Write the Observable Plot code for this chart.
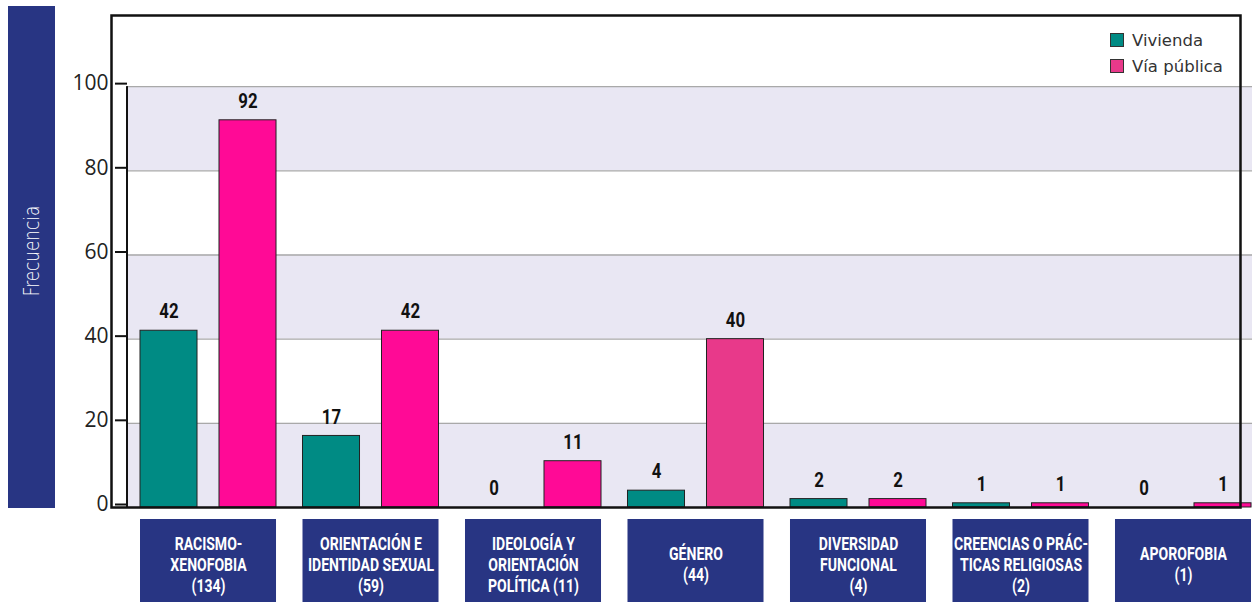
<!DOCTYPE html>
<html>
<head>
<meta charset="utf-8">
<script src="https://cdn.jsdelivr.net/npm/d3@7"></script>
<script src="https://cdn.jsdelivr.net/npm/@observablehq/plot@0.6"></script>
<style>
  body { margin: 0; background: #fff; }
  #wrap { position: relative; width: 1252px; height: 602px; overflow: hidden; background: #fff; }
  #ylab { position: absolute; left: 8px; top: 6px; width: 47px; height: 502px; background: #283583; }
  #ylab span { position: absolute; left: 50%; top: 245px; transform: translate(-50%, -50%) rotate(-90deg) scale(0.8, 1);
    color: #fff; font-family: "DejaVu Sans", sans-serif; font-weight: 200; font-size: 21px; white-space: nowrap; }
  #legend { position: absolute; left: 1110px; top: 27px; font-family: "DejaVu Sans", sans-serif; font-size: 16.5px; color: #333; }
  #legend div { display: flex; align-items: center; height: 26px; }
  #legend i { display: inline-block; width: 12px; height: 12px; border: 1px solid #333; margin-right: 8px; }
  #main { position: absolute; left: 0; top: 0; }
  #cats { position: absolute; left: 0; top: 510px; }
</style>
</head>
<body>
<div id="wrap">
  <div id="ylab"><span>Frecuencia</span></div>
  <div id="main"></div>
  <div id="cats"></div>
  <div id="legend"></div>
</div>
<script>
// ---- data ----
const categories = [
  "RACISMO-\nXENOFOBIA\n(134)",
  "ORIENTACIÓN E\nIDENTIDAD SEXUAL\n(59)",
  "IDEOLOGÍA Y\nORIENTACIÓN\nPOLÍTICA (11)",
  "GÉNERO\n(44)",
  "DIVERSIDAD\nFUNCIONAL\n(4)",
  "CREENCIAS O PRÁC-\nTICAS RELIGIOSAS\n(2)",
  "APOROFOBIA\n(1)"
];
const series = ["Vivienda", "Vía pública"];
const vivienda   = [42, 17, 0, 4, 2, 1, 0];
const viaPublica = [92, 42, 11, 40, 2, 1, 1];
const yTicks = [0, 20, 40, 60, 80, 100];
const stripeFrom = [0, 40, 80];
const stripeTo   = [20, 60, 100];

// ---- styling ----
const W = 1252, ML = 127, MR = 0;
const teal = "#008b84", pink = "#ff0a96", pinkSoft = "#e8398a", navy = "#283583";
const boldFont = "Roboto, 'DejaVu Sans', sans-serif";
const tickFont = "'Open Sans', Lato, sans-serif";

const rows = categories.map((c, i) => ({cat: c, viv: vivienda[i], via: viaPublica[i]}));
const stripes = stripeFrom.map((s, i) => ({y1: s, y2: stripeTo[i]}));
const xScale = {domain: categories, range: [ML, 1264], paddingInner: 0.163, paddingOuter: 0.08, round: false, axis: null};
const barW = 57, band = 136, off = (band - barW) / 2;

// horizontally condense the text of text marks (no condensed font installed)
function condense(svg, k) {
  svg.querySelectorAll("g[aria-label='text'] text").forEach(t => {
    const tr = t.getAttribute("transform") || "";
    t.setAttribute("transform", tr + ` scale(${k},1)`);
  });
}

const main = Plot.plot({
  width: W, height: 510,
  marginLeft: ML, marginRight: MR, marginTop: 15, marginBottom: 3,
  style: {background: "transparent", overflow: "visible"},
  x: xScale,
  y: {domain: [0, 116.9], axis: null},
  marks: [
    Plot.rect(stripes, {y1: "y1", y2: "y2", fill: "#e9e7f3"}),
    Plot.ruleY(yTicks.filter(t => t > 0), {stroke: "#a9a9a9", strokeWidth: 1.3}),
    Plot.barY(rows, {x: "cat", y: "viv", insetRight: band - barW, fill: teal, stroke: "#222", strokeWidth: 1}),
    Plot.barY(rows, {x: "cat", y: "via", insetLeft: band - barW,
      fill: d => d.cat === categories[3] ? pinkSoft : pink, stroke: "#222", strokeWidth: 1}),
    Plot.text(rows, {x: "cat", y: "viv", text: "viv", dx: -off, dy: -19, fontSize: 21, fontWeight: "bold", fontFamily: boldFont, fill: "#111"}),
    Plot.text(rows, {x: "cat", y: "via", text: "via", dx: off, dy: -19, fontSize: 21, fontWeight: "bold", fontFamily: boldFont, fill: "#111"}),
    Plot.rect([yTicks], {y1: d => d3.min(d), y2: d => d3.max(d), fill: "#111", insetLeft: -1, insetRight: W - ML - MR - 1}),
    Plot.axisY(yTicks, {anchor: "left", tickSize: 12, tickPadding: 7, strokeWidth: 2, stroke: "#111",
      fontSize: 21, fontFamily: tickFont, fill: "#222", dy: -3, label: null}),
    Plot.frame({stroke: "#111", strokeWidth: 2.5, insetLeft: -16, insetRight: 12})
  ]
});
condense(main, 0.8);
document.getElementById("main").appendChild(main);

const cats = Plot.plot({
  width: W, height: 92,
  marginLeft: ML, marginRight: MR, marginTop: 9, marginBottom: 0,
  style: {background: "transparent"},
  x: xScale,
  marks: [
    Plot.cell(rows, {x: "cat", fill: navy, inset: 0}),
    Plot.text(rows, {x: "cat", text: "cat", frameAnchor: "middle", dy: 3, lineHeight: 1.18,
      fill: "#fff", fontSize: 18, fontWeight: "bold", fontFamily: boldFont})
  ]
});
condense(cats, 0.78);
document.getElementById("cats").appendChild(cats);

// legend
const legend = document.getElementById("legend");
[[series[0], teal], [series[1], pinkSoft]].forEach(([name, col]) => {
  const row = document.createElement("div");
  const sw = document.createElement("i");
  sw.style.background = col;
  row.appendChild(sw);
  row.appendChild(document.createTextNode(name));
  legend.appendChild(row);
});
</script>
</body>
</html>
